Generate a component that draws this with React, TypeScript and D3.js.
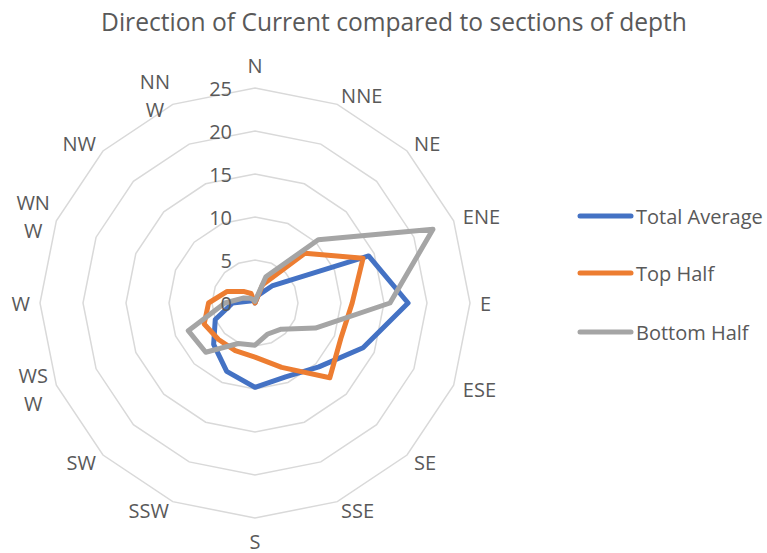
import React from "react";
import * as d3 from "d3";

const directions = ["N","NNE","NE","ENE","E","ESE","SE","SSE","S","SSW","SW","WSW","W","WNW","NW","NNW"];
const directionLines: string[][] = [["N"],["NNE"],["NE"],["ENE"],["E"],["ESE"],["SE"],["SSE"],["S"],["SSW"],["SW"],["WS","W"],["W"],["WN","W"],["NW"],["NN","W"]];
const ticks = [0, 5, 10, 15, 20, 25];

const totalAverage = [0, 1.0, 2.8, 14.3, 17.8, 13.6, 10.5, 9.3, 9.8, 8.6, 6.8, 5.0, 2.6, 0.6, 0.4, 0.2];
const topHalf = [0, 2.3, 8.2, 13.6, 11.3, 10.8, 12.3, 8.1, 6.3, 6.0, 6.0, 6.4, 5.4, 3.5, 1.9, 1.2];
const bottomHalf = [0.2, 3.3, 10.4, 22.4, 15.7, 7.6, 4.3, 3.9, 4.9, 5.1, 8.1, 8.4, 3.5, 1.5, 0.8, 0.4];

const seriesNames = ["Total Average", "Top Half", "Bottom Half"];
const seriesColors = ["#4472C4", "#ED7D31", "#A5A5A5"];
const seriesData = [totalAverage, topHalf, bottomHalf];

const W = 767, H = 553;
const cx = 255, cy = 303, R = 215;
const FONT = "'Open Sans', 'Noto Sans', sans-serif";
const TEXT = "#595959";

export default function App() {
  const r = d3.scaleLinear().domain([0, 25]).range([0, R]);
  const angle = d3.scalePoint<string>().domain(directions).range([0, 2 * Math.PI * (15 / 16)]);

  const radial = d3.lineRadial<number>()
    .angle((_, i) => angle(directions[i]) as number)
    .radius((d) => r(d))
    .curve(d3.curveLinearClosed);

  const ring = (v: number) => radial(directions.map(() => v)) as string;

  return (
    <svg width={W} height={H} style={{ position: "absolute", left: 0, top: 0, background: "#fff" }} fontFamily={FONT}>
      <rect width={W} height={H} fill="#fff" />
      <text x={394} y={31} textAnchor="middle" fontSize={24.6} fill={TEXT}>
        Direction of Current compared to sections of depth
      </text>
      <g transform={`translate(${cx},${cy})`}>
        {ticks.slice(1).map((t) => (
          <path key={t} d={ring(t)} fill="none" stroke="#D9D9D9" strokeWidth={1.5} />
        ))}
        {seriesData.map((data, si) => (
          <path key={si} d={radial(data) as string} fill="none" stroke={seriesColors[si]}
            strokeWidth={5} strokeLinejoin="round" />
        ))}
        {ticks.map((t) => (
          <text key={t} x={-23} y={-r(t)} textAnchor="end" dominantBaseline="central" fontSize={20} fill={TEXT}>{t}</text>
        ))}
        {directions.map((d, i) => {
          const a = angle(d) as number;
          const sx = Math.sin(a), sy = -Math.cos(a);
          const lines = directionLines[i];
          const vertical = Math.abs(sx) < 0.1;
          const gap = vertical ? 23 : 10;
          let px = (R + gap) * sx;
          const py = (R + gap) * sy;
          let anchor: "start" | "end" | "middle" = sx > 0.1 ? "start" : sx < -0.1 ? "end" : "middle";
          if (lines.length > 1) {
            px = px - 14;
            anchor = "middle";
          }
          const lh = 28;
          return (
            <text key={d} textAnchor={anchor} fontSize={20} fill={TEXT}>
              {lines.map((ln, li) => (
                <tspan key={li} x={px} y={py + (li - (lines.length - 1) / 2) * lh} dominantBaseline="central">{ln}</tspan>
              ))}
            </text>
          );
        })}
      </g>
      <g>
        {seriesNames.map((n, i) => {
          const y = [216, 273, 332][i];
          return (
            <g key={n}>
              <line x1={580} x2={631} y1={y} y2={y} stroke={seriesColors[i]} strokeWidth={5} strokeLinecap="round" />
              <text x={636} y={y} dominantBaseline="central" fontSize={20} fill={TEXT}>{n}</text>
            </g>
          );
        })}
      </g>
    </svg>
  );
}
